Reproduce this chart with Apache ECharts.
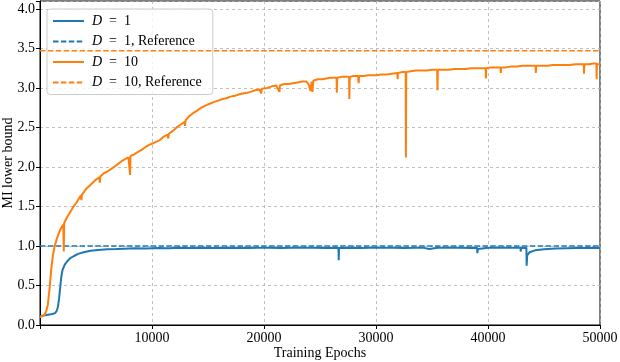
<!DOCTYPE html>
<html>
<head>
<meta charset="utf-8">
<script src="https://cdn.jsdelivr.net/npm/echarts@6/dist/echarts.min.js"></script>
<style>html,body{margin:0;padding:0;background:#fff;}#c{width:620px;height:362px;}</style>
</head>
<body>
<div id="c"></div>
<script>
const seriesNames = ['D = 1', 'D = 1, Reference', 'D = 10', 'D = 10, Reference'];
const xTicks = [0, 10000, 20000, 30000, 40000, 50000];
const yTicks = [0.0, 0.5, 1.0, 1.5, 2.0, 2.5, 3.0, 3.5, 4.0];
const refD1 = 1.0;
const refD10 = 3.47;

const d1Epochs = [0,300,700,1100,1350,1500,1600,1700,1800,1900,2000,2200,2450,2700,3000,3400,3900,4500,5200,6000,6800,7500,7550,7600,8500,9500,10500,11500,12500,13500,14500,15500,16500,17500,18500,19500,20500,21500,22500,23500,24500,25500,26650,26670,26700,27500,28500,29500,30500,31500,32500,33500,34300,34750,34800,35500,36500,37500,38500,39030,39050,39100,39200,40000,41000,42000,42900,42920,42960,43430,43450,43500,43700,44200,45000,46000,47000,48000,49000,50000];
const d1Values = [0.11,0.12,0.13,0.14,0.15,0.18,0.23,0.33,0.47,0.61,0.69,0.76,0.81,0.845,0.87,0.90,0.92,0.94,0.95,0.958,0.962,0.966,0.945,0.966,0.97,0.968,0.974,0.972,0.976,0.974,0.977,0.975,0.973,0.977,0.975,0.978,0.976,0.974,0.978,0.976,0.977,0.975,0.976,0.82,0.975,0.977,0.975,0.978,0.976,0.977,0.975,0.977,0.976,0.962,0.976,0.978,0.976,0.977,0.975,0.976,0.91,0.962,0.975,0.977,0.976,0.978,0.976,0.93,0.975,0.976,0.75,0.88,0.92,0.945,0.96,0.968,0.972,0.975,0.976,0.975];

const d10Epochs = [0,200,400,550,700,850,1000,1150,1300,1500,1700,1900,2080,2120,2160,2400,2700,3000,3300,3650,3700,3750,4100,4400,4700,5000,5300,5340,5380,5700,6000,6300,6600,6900,7250,7600,7900,8000,8040,8080,8400,8750,9100,9400,9750,10100,10400,10700,11000,11400,11450,11500,11800,12200,12600,12920,12950,13000,13300,13660,14000,14400,14800,15150,15500,15900,16300,16630,17000,17400,17800,18100,18500,18800,19200,19600,19750,19800,20300,20700,21100,21380,21420,21800,22200,22600,23000,23400,23800,24000,24150,24250,24330,24400,24800,25200,25550,25900,26300,26480,26500,26540,26900,27300,27600,27620,27660,28000,28400,28450,28500,28900,29300,29700,30000,30500,31000,31400,31900,31930,31970,32300,32650,32670,32700,33100,33560,34000,34500,35000,35460,35490,35520,36000,36500,37000,37500,38000,38500,39000,39500,39790,39810,39840,40300,40700,41120,41140,41170,41600,42100,42600,43080,43500,44000,44250,44270,44300,44800,45300,45800,46300,46800,47300,47800,48300,48550,48570,48600,49000,49400,49680,49700,49720,50000];
const d10Values = [0.10,0.11,0.13,0.17,0.26,0.45,0.70,0.88,0.99,1.09,1.17,1.23,1.27,0.93,1.29,1.36,1.43,1.50,1.56,1.64,1.58,1.65,1.72,1.76,1.80,1.84,1.87,1.80,1.88,1.92,1.94,1.97,2.00,2.03,2.07,2.10,2.12,2.14,1.90,2.14,2.16,2.19,2.22,2.25,2.28,2.30,2.32,2.34,2.38,2.41,2.36,2.42,2.45,2.50,2.54,2.57,2.52,2.59,2.64,2.68,2.71,2.75,2.78,2.80,2.82,2.84,2.86,2.87,2.89,2.90,2.92,2.93,2.94,2.95,2.97,2.98,2.93,2.99,3.00,3.02,3.03,2.95,3.03,3.05,3.05,3.06,3.07,3.08,3.08,3.04,2.96,3.08,2.95,3.09,3.11,3.11,3.12,3.13,3.13,3.13,2.94,3.13,3.14,3.14,3.14,2.86,3.14,3.15,3.15,3.06,3.15,3.15,3.16,3.16,3.16,3.17,3.17,3.18,3.19,3.11,3.19,3.20,3.20,2.12,3.20,3.21,3.22,3.22,3.22,3.23,3.23,2.97,3.23,3.23,3.23,3.24,3.24,3.24,3.25,3.25,3.25,3.25,3.12,3.25,3.26,3.26,3.26,3.19,3.26,3.26,3.27,3.27,3.28,3.28,3.28,3.28,3.19,3.28,3.28,3.28,3.29,3.29,3.29,3.29,3.30,3.30,3.30,3.18,3.30,3.30,3.31,3.31,3.11,3.30,3.30];

const FONT = '"Liberation Serif", "Times New Roman", serif';
const BLUE = '#1f77b4', ORANGE = '#ff7f0e';

function zip(xs, ys) { return xs.map((x, i) => [x, ys[i]]); }
function flat(v) { return [[xTicks[0], v], [xTicks[xTicks.length - 1], v]]; }

const chart = echarts.init(document.getElementById('c'), null, {renderer: 'canvas'});
chart.setOption({
  animation: false,
  backgroundColor: '#fff',
  grid: {left: 40, right: 20, top: 1, bottom: 37, show: true, borderColor: '#000', borderWidth: 1, outerBoundsMode: 'none', containLabel: false},
  legend: {
    orient: 'vertical', left: 47, top: 9,
    padding: [5, 11, 5, 5], itemGap: 6.5, itemWidth: 31, itemHeight: 14,
    backgroundColor: 'rgba(255,255,255,0.8)', borderColor: '#cccccc', borderWidth: 1, borderRadius: 3,
    data: seriesNames,
    itemStyle: {color: 'rgba(0,0,0,0)', borderWidth: 0, opacity: 0},
    formatter: n => n.replace('D', '{i|D}').replace(' = ', '\u2002=\u2002'),
    textStyle: {fontFamily: FONT, fontSize: 14, color: '#000', padding: [0, 0, 0, 3],
      rich: {i: {fontFamily: FONT, fontSize: 14, fontStyle: 'italic', color: '#000'}}}
  },
  xAxis: {
    type: 'value', min: xTicks[0], max: xTicks[xTicks.length - 1], interval: 10000,
    name: 'Training Epochs', nameLocation: 'middle', nameGap: 21, nameMoveOverlap: false,
    nameTextStyle: {fontFamily: FONT, fontSize: 14, color: '#000'},
    axisLine: {show: true, lineStyle: {color: '#000', width: 1}},
    axisTick: {show: true, length: 4, lineStyle: {color: '#000'}},
    axisLabel: {fontFamily: FONT, fontSize: 14, color: '#000', margin: 6, formatter: v => v === 0 ? '' : String(v)},
    splitLine: {show: true, lineStyle: {color: '#b0b0b0', width: 0.8, type: [3, 3]}}
  },
  yAxis: {
    type: 'value', min: 0, max: 4.1, interval: 0.5,
    name: 'MI lower bound', nameLocation: 'middle', nameGap: 25, nameMoveOverlap: false,
    nameTextStyle: {fontFamily: FONT, fontSize: 14, color: '#000'},
    axisLine: {show: true, lineStyle: {color: '#000', width: 1}},
    axisTick: {show: true, length: 4, lineStyle: {color: '#000'}},
    axisLabel: {fontFamily: FONT, fontSize: 14, color: '#000', margin: 5,
      formatter: v => (yTicks.some(t => Math.abs(t - v) < 1e-6) ? v.toFixed(1) : '')},
    splitLine: {show: true, lineStyle: {color: '#b0b0b0', width: 0.8, type: [3, 3]}}
  },
  series: [
    {name: seriesNames[0], type: 'line', data: zip(d1Epochs, d1Values), symbol: 'none', sampling: null,
      lineStyle: {color: BLUE, width: 2}, itemStyle: {color: BLUE}, z: 2},
    {name: seriesNames[1], type: 'line', data: flat(refD1), symbol: 'none',
      lineStyle: {color: BLUE, width: 1.6, type: [5.5, 2.4]}, itemStyle: {color: BLUE}, z: 3},
    {name: seriesNames[2], type: 'line', data: zip(d10Epochs, d10Values), symbol: 'none', sampling: null,
      lineStyle: {color: ORANGE, width: 2}, itemStyle: {color: ORANGE}, z: 4},
    {name: seriesNames[3], type: 'line', data: flat(refD10), symbol: 'none',
      lineStyle: {color: ORANGE, width: 1.6, type: [5.5, 2.4]}, itemStyle: {color: ORANGE}, z: 5}
  ]
});
</script>
</body>
</html>
